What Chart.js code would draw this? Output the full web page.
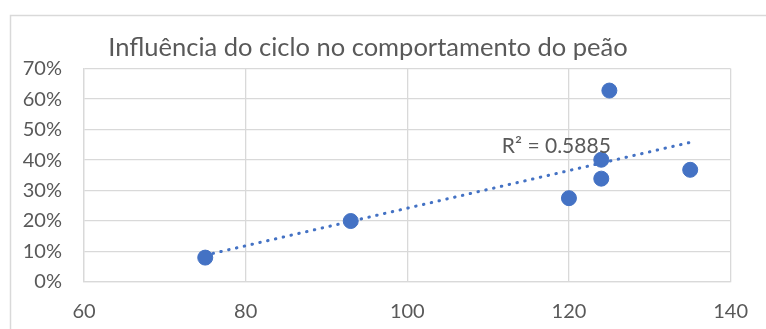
<!DOCTYPE html>
<html>
<head>
<meta charset="utf-8">
<script src="https://cdn.jsdelivr.net/npm/chart.js@4"></script>
<style>
html,body{margin:0;padding:0;background:#fff}
#wrap{width:766px;height:329px;position:relative}
</style>
</head>
<body>
<div id="wrap"><canvas id="chart" width="766" height="329"></canvas></div>
<script>

// valores
let ciclo=[75,93,120,124,124,125,135]
let influencia=[0.08,0.20,0.275,0.401,0.339,0.628,0.368]

// linha de tendência (extremos)
let tendX=[75,135]
let tendY=[0.088,0.458]
let r2Texto="R² = 0.5885"

let xTicks=[60,80,100,120,140]
let titulo="Influência do ciclo no comportamento do peão"

let azul="#4472C4"
let cinza="#d9d9d9"
let texto="#595959"
let fonte="Lato, 'Open Sans', sans-serif"

let pontos=ciclo.map((x,i)=>({x:x,y:influencia[i]}))
let tendencia=tendX.map((x,i)=>({x:x,y:tendY[i]}))

let moldura={
id:"moldura",
beforeDraw(chart){
let ctx=chart.ctx
ctx.save()
ctx.fillStyle="#fff"
ctx.fillRect(0,0,chart.width,chart.height)
ctx.strokeStyle=cinza
ctx.lineWidth=1.5
ctx.strokeRect(10.5,15.5,900,500)
ctx.restore()
}
}

let rotuloR2={
id:"rotuloR2",
afterDatasetsDraw(chart){
let ctx=chart.ctx
let xs=chart.scales.x
let ys=chart.scales.y
ctx.save()
ctx.font="21px "+fonte
ctx.fillStyle=texto
ctx.textBaseline="alphabetic"
ctx.textAlign="left"
ctx.fillText(r2Texto,xs.getPixelForValue(111.7),ys.getPixelForValue(0.424))
ctx.restore()
}
}

new Chart(document.getElementById("chart"),{

type:"scatter",

data:{
datasets:[
{
label:"Influência",
data:pontos,
backgroundColor:azul,
borderColor:azul,
pointRadius:7.5,
pointHoverRadius:7.5,
order:1
},
{
label:"Tendência",
type:"line",
data:tendencia,
borderColor:azul,
borderWidth:3,
borderDash:[0.5,7.5],
borderCapStyle:"round",
pointRadius:0,
fill:false,
order:2
}
]
},

options:{
responsive:false,
animation:false,
events:[],
layout:{padding:{left:0,right:30,top:0,bottom:0}},
plugins:{
legend:{display:false},
tooltip:{enabled:false},
title:{
display:true,
text:titulo,
color:texto,
font:{family:fonte,size:25.5,weight:"normal"},
padding:{top:32,bottom:6}
}
},
scales:{
x:{
type:"linear",
min:60,
max:140,
afterBuildTicks(s){s.ticks=xTicks.map(v=>({value:v}))},
afterFit(s){s.height=47},
grid:{color:cinza,lineWidth:1.3,drawTicks:false},
border:{color:cinza,width:1.3},
ticks:{color:texto,padding:18,font:{family:fonte,size:20}}
},
y:{
min:0,
max:0.7,
afterFit(s){s.width=84},
grid:{color:cinza,lineWidth:1.3,drawTicks:false},
border:{color:cinza,width:1.3},
ticks:{
stepSize:0.1,
color:texto,
padding:22,
font:{family:fonte,size:20},
callback:v=>Math.round(v*100)+"%"
}
}
}
},

plugins:[moldura,rotuloR2]

})

</script>
</body>
</html>
